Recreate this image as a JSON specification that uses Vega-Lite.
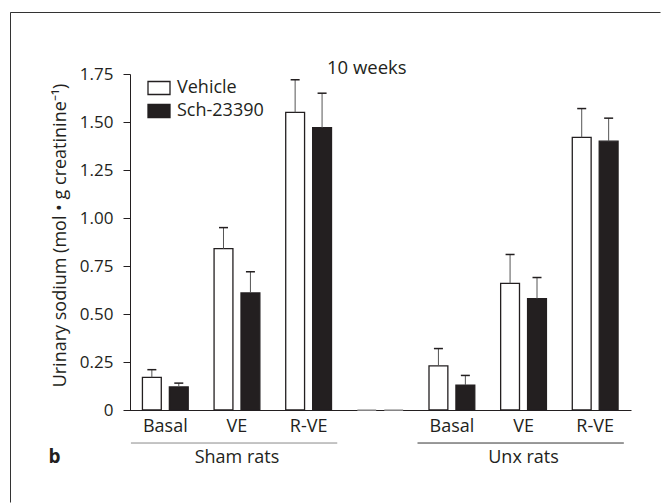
{
  "$schema": "https://vega.github.io/schema/vega-lite/v6.json",
  "autosize": "none",
  "width": 650,
  "height": 490,
  "padding": {"left": 10, "top": 12, "right": 1, "bottom": 1},
  "background": "white",
  "view": {"stroke": "#333333", "strokeWidth": 1, "strokeDash": [650, 1140, 490]},
  "config": {
    "font": "Open Sans",
    "axis": {
      "grid": false,
      "domainColor": "#231f20",
      "tickColor": "#231f20",
      "labelColor": "#231f20",
      "titleColor": "#231f20",
      "labelFont": "Open Sans",
      "titleFont": "Open Sans",
      "titleFontWeight": "normal"
    }
  },
  "title": {
    "text": "10 weeks",
    "anchor": "start",
    "frame": "group",
    "dx": 317,
    "offset": -80,
    "baseline": "alphabetic",
    "fontSize": 18.5,
    "fontWeight": "normal",
    "color": "#231f20",
    "font": "Open Sans"
  },
  "datasets": {
    "sodium": [
      {"group": "Sham rats", "cond": "Sham|Basal", "treatment": "Vehicle", "value": 0.17, "upper": 0.21},
      {"group": "Sham rats", "cond": "Sham|Basal", "treatment": "Sch-23390", "value": 0.12, "upper": 0.14},
      {"group": "Sham rats", "cond": "Sham|VE", "treatment": "Vehicle", "value": 0.84, "upper": 0.95},
      {"group": "Sham rats", "cond": "Sham|VE", "treatment": "Sch-23390", "value": 0.61, "upper": 0.72},
      {"group": "Sham rats", "cond": "Sham|R-VE", "treatment": "Vehicle", "value": 1.55, "upper": 1.72},
      {"group": "Sham rats", "cond": "Sham|R-VE", "treatment": "Sch-23390", "value": 1.47, "upper": 1.65},
      {"group": "", "cond": "Gap|", "treatment": "Vehicle", "value": 0, "upper": null},
      {"group": "", "cond": "Gap|", "treatment": "Sch-23390", "value": 0, "upper": null},
      {"group": "Unx rats", "cond": "Unx|Basal", "treatment": "Vehicle", "value": 0.23, "upper": 0.32},
      {"group": "Unx rats", "cond": "Unx|Basal", "treatment": "Sch-23390", "value": 0.13, "upper": 0.18},
      {"group": "Unx rats", "cond": "Unx|VE", "treatment": "Vehicle", "value": 0.66, "upper": 0.81},
      {"group": "Unx rats", "cond": "Unx|VE", "treatment": "Sch-23390", "value": 0.58, "upper": 0.69},
      {"group": "Unx rats", "cond": "Unx|R-VE", "treatment": "Vehicle", "value": 1.42, "upper": 1.57},
      {"group": "Unx rats", "cond": "Unx|R-VE", "treatment": "Sch-23390", "value": 1.40, "upper": 1.52}
    ],
    "groups": [
      {"group": "Sham rats", "first": "Sham|Basal", "mid": "Sham|VE", "last": "Sham|R-VE"},
      {"group": "Unx rats", "first": "Unx|Basal", "mid": "Unx|VE", "last": "Unx|R-VE"}
    ]
  },
  "layer": [
    {
      "data": {"name": "sodium"},
      "mark": {"type": "bar", "strokeWidth": 1.3},
      "encoding": {
        "x": {
          "field": "cond",
          "type": "nominal",
          "sort": null,
          "scale": {
            "type": "band",
            "domain": ["Sham|Basal", "Sham|VE", "Sham|R-VE", "Gap|", "Unx|Basal", "Unx|VE", "Unx|R-VE"],
            "range": [119.5, 621],
            "paddingInner": 0,
            "paddingOuter": 0
          },
          "axis": {
            "title": "b",
            "titleX": 38,
            "titleY": 52,
            "titleAlign": "left",
            "titleBaseline": "alphabetic",
            "titleFontWeight": "bold",
            "titleFontSize": 19,
            "labelExpr": "split(datum.value, '|')[1]",
            "labelAngle": 0,
            "ticks": false,
            "labelPadding": 7,
            "labelFontSize": 18,
            "offset": -92,
            "domainWidth": 1
          }
        },
        "xOffset": {
          "field": "treatment",
          "type": "nominal",
          "scale": {"domain": ["Vehicle", "Sch-23390"], "paddingInner": 0.3, "paddingOuter": 0.48}
        },
        "y": {
          "field": "value",
          "type": "quantitative",
          "scale": {"domain": [0, 1.75], "range": [398, 62], "nice": false},
          "axis": {
            "title": "Urinary sodium (mol • g creatinine⁻¹)",
            "values": [0, 0.25, 0.5, 0.75, 1, 1.25, 1.5, 1.75],
            "labelExpr": "datum.value === 0 ? '0' : format(datum.value, '.2f')",
            "offset": -120,
            "tickSize": 7,
            "labelPadding": 10,
            "labelFontSize": 17,
            "titleFontSize": 18,
            "titleX": -70,
            "titleY": 223,
            "titleBaseline": "middle",
            "domainWidth": 1,
            "tickWidth": 1
          }
        },
        "fill": {
          "field": "treatment",
          "type": "nominal",
          "scale": {"domain": ["Vehicle", "Sch-23390"], "range": ["#ffffff", "#231f20"]},
          "legend": {
            "title": null,
            "orient": "none",
            "legendX": 137,
            "legendY": 64,
            "padding": 0,
            "symbolType": "M-1,-0.59H1V0.59H-1Z",
            "symbolSize": 484,
            "symbolStrokeColor": "#231f20",
            "symbolStrokeWidth": 1.3,
            "labelFontSize": 18,
            "labelColor": "#231f20",
            "labelOffset": 6,
            "rowPadding": 1
          }
        },
        "stroke": {
          "condition": {"test": "datum.value === 0", "value": "#a8a8a8"},
          "value": "#231f20"
        }
      }
    },
    {
      "data": {"name": "sodium"},
      "transform": [{"filter": "datum.upper != null"}],
      "mark": {"type": "rule", "color": "#555555", "strokeWidth": 1},
      "encoding": {
        "x": {"field": "cond", "type": "nominal", "sort": null},
        "xOffset": {"field": "treatment", "type": "nominal"},
        "y": {"field": "value", "type": "quantitative"},
        "y2": {"field": "upper"}
      }
    },
    {
      "data": {"name": "sodium"},
      "transform": [{"filter": "datum.upper != null"}],
      "mark": {"type": "tick", "orient": "horizontal", "size": 9, "thickness": 1.5, "color": "#231f20", "opacity": 1},
      "encoding": {
        "x": {"field": "cond", "type": "nominal", "sort": null},
        "xOffset": {"field": "treatment", "type": "nominal"},
        "y": {"field": "upper", "type": "quantitative"}
      }
    },
    {
      "data": {"name": "groups"},
      "mark": {"type": "rule", "strokeWidth": 1},
      "encoding": {
        "x": {"field": "first", "type": "nominal", "bandPosition": 0.02},
        "x2": {"field": "last", "bandPosition": 0.9},
        "y": {"datum": -0.172},
        "stroke": {
          "field": "group",
          "type": "nominal",
          "scale": {"domain": ["Sham rats", "Unx rats"], "range": ["#8a8a8a", "#333333"]},
          "legend": null
        }
      }
    },
    {
      "data": {"name": "groups"},
      "mark": {"type": "text", "fontSize": 18, "baseline": "alphabetic", "align": "center", "color": "#231f20"},
      "encoding": {
        "x": {"field": "mid", "type": "nominal"},
        "y": {"datum": -0.276},
        "text": {"field": "group"}
      }
    }
  ]
}
